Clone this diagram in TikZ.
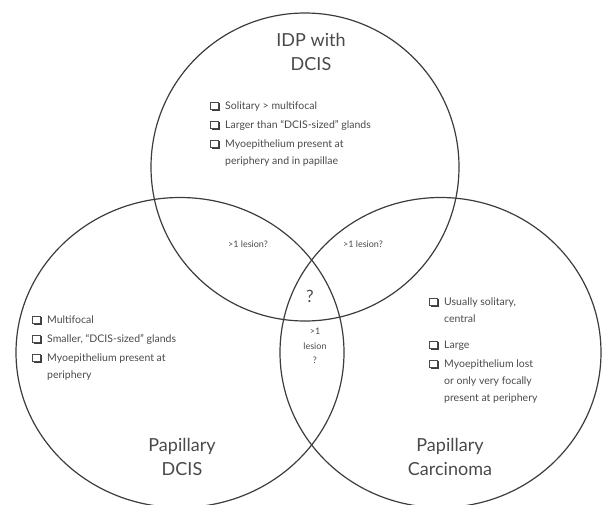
\documentclass[tikz,border=0pt]{standalone}
\usepackage{fontspec}
\setmainfont{Lato}
\definecolor{inkgray}{HTML}{3C3C3C}
\definecolor{textgray}{HTML}{4A4A4A}
\newcommand{\chk}{\hbox to 10pt{\rlap{\kern1.5pt\raisebox{-1.5pt}{\textcolor{inkgray}{\rule{8pt}{8pt}}}}%
    {\setlength{\fboxsep}{0pt}\setlength{\fboxrule}{0.6pt}\fbox{\textcolor{white}{\rule{6.8pt}{6.8pt}}}}\hss}}

\begin{document}
\begin{tikzpicture}[x=1pt,y=-1pt,
        ring/.style={draw=inkgray,line width=1.2pt},
        title/.style={text=textgray,align=center,font=\fontsize{18}{23.5}\selectfont},
        checklist/.style={text=textgray,anchor=base west,inner sep=0pt,font=\fontsize{10.5}{19}\selectfont},
        remark/.style={text=textgray,align=center,font=\fontsize{9}{14.5}\selectfont}]

    \path[use as bounding box,clip] (0,0) rectangle (602,504);

    % Circle centres
    \coordinate (idp) at (305,167);
    \coordinate (pdcis) at (180,352.5);
    \coordinate (pcarc) at (440.5,352.5);

    % Circles
    \draw[ring] (idp) circle [radius=154pt];
    \draw[ring] (pdcis) ellipse [x radius=164pt,y radius=155pt];
    \draw[ring] (pcarc) ellipse [x radius=160.5pt,y radius=155pt];

    % Titles
    \node[title] (idptitle) at (311,52) {IDP with\\DCIS};
    \node[title] (pdcistitle) at (182,457) {Papillary\\DCIS};
    \node[title] (pcarctitle) at (450,457) {Papillary\\Carcinoma};

    % Feature lists
    \node[checklist] (idplist) at (210,109) {\begin{tabular}[t]{@{}l@{\hspace{5pt}}l@{}}
        \chk & Solitary > multifocal\\
        \chk & Larger than “DCIS-sized” glands\\
        \chk & Myoepithelium present at\\[-2pt]
             & periphery and in papillae
    \end{tabular}};
    \node[checklist] (pdcislist) at (32,323) {\begin{tabular}[t]{@{}l@{\hspace{5pt}}l@{}}
        \chk & Multifocal\\
        \chk & Smaller, “DCIS-sized” glands\\
        \chk & Myoepithelium present at\\[-2pt]
             & periphery
    \end{tabular}};
    \node[checklist] (pcarclist) at (429,305) {\begin{tabular}[t]{@{}l@{\hspace{5pt}}l@{}}
        \chk & Usually solitary,\\[-2pt]
             & central\\[7pt]
        \chk & Large\\
        \chk & Myoepithelium lost\\[-2pt]
             & or only very focally\\[-2pt]
             & present at periphery
    \end{tabular}};

    % Overlap remarks
    \node[remark] (lesionl) at (248,244) {>1 lesion?};
    \node[remark] (lesionr) at (363,244) {>1 lesion?};
    \node[remark,font=\fontsize{17}{17}\selectfont] (query) at (310,296) {?};
    \node[remark] (lesionc) at (315,346) {>1\\lesion\\?};

\end{tikzpicture}
\end{document}
